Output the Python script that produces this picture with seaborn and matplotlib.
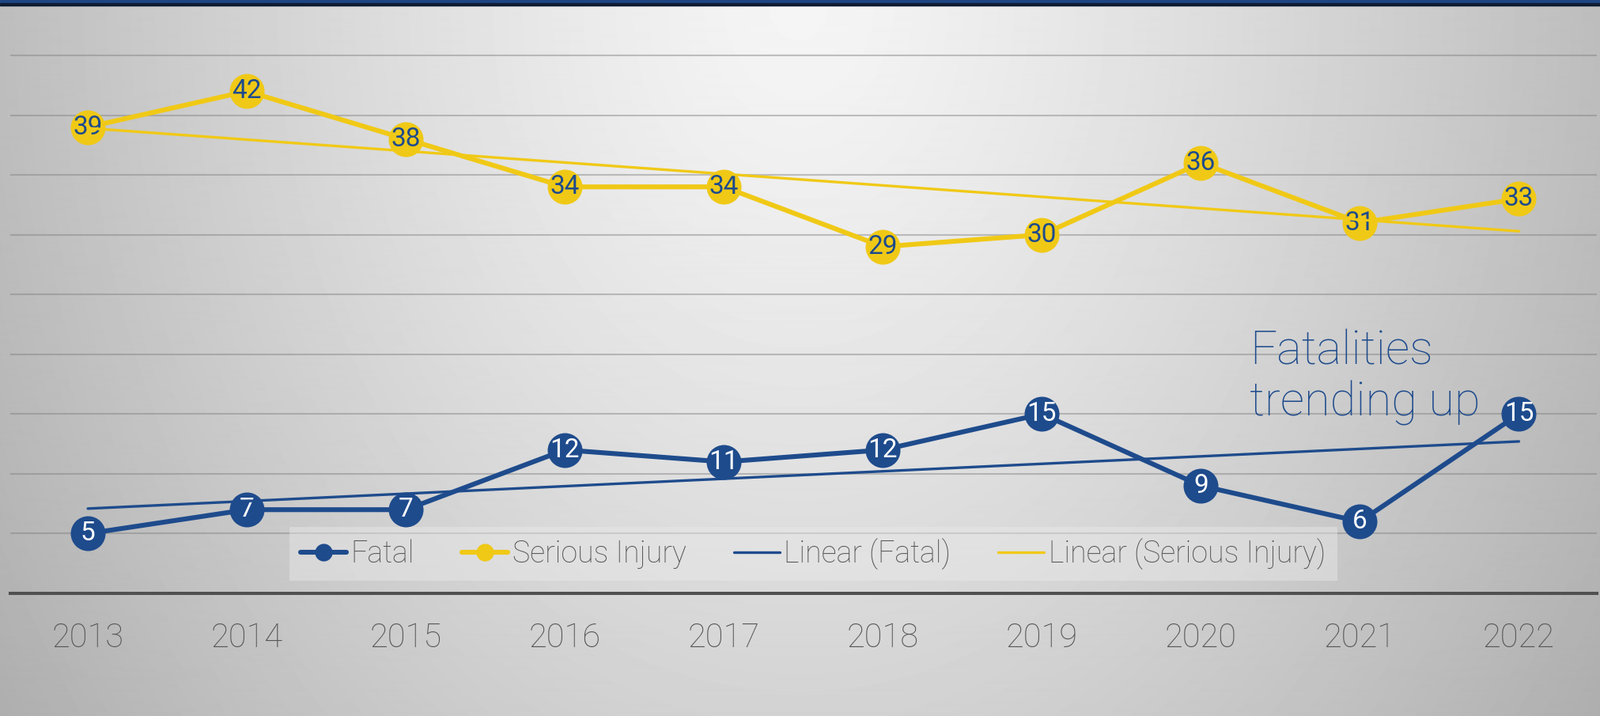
import numpy as np
import matplotlib
matplotlib.use("Agg")
import matplotlib.pyplot as plt
import seaborn as sns
from matplotlib.lines import Line2D
from matplotlib.patches import Rectangle

# ---- data ----
years = [2013, 2014, 2015, 2016, 2017, 2018, 2019, 2020, 2021, 2022]
fatal = [5, 7, 7, 12, 11, 12, 15, 9, 6, 15]
serious = [39, 42, 38, 34, 34, 29, 30, 36, 31, 33]
legend_labels = ["Fatal", "Serious Injury", "Linear (Fatal)", "Linear (Serious Injury)"]
annotation = "Fatalities\ntrending up"

BLUE = "#1E4B8C"
YELLOW = "#F0C916"
GREY_TXT = "#555555"
FONT = ['Roboto', 'DejaVu Sans']

sns.set_style("white")
plt.rcParams['font.family'] = FONT

W, H = 2023, 905
fig = plt.figure(figsize=(W / 100, H / 100), dpi=100)

# background radial gradient
bg = fig.add_axes([0, 0, 1, 1], zorder=0)
yy, xx = np.mgrid[0:H, 0:W]
d = np.sqrt(((xx - 1010) / 1010) ** 2 + ((yy - 0) / 1340) ** 2)
img = np.clip(245 - 56 * d ** 1.25, 0, 255) / 255
bg.imshow(img, cmap='gray', vmin=0, vmax=1, aspect='auto', interpolation='bilinear')
bg.set_axis_off()

ax = fig.add_axes([13 / W, 1 - 750 / H, 2006 / W, 750 / H], zorder=1)
ax.patch.set_alpha(0)

x = np.array(years)
sns.lineplot(x=x, y=fatal, ax=ax, color=BLUE, lw=4.4, marker='o', markersize=31.7,
             markeredgewidth=0, legend=False, zorder=3)
sns.lineplot(x=x, y=serious, ax=ax, color=YELLOW, lw=4.4, marker='o', markersize=31.7,
             markeredgewidth=0, legend=False, zorder=3)

for xi, v in zip(years, fatal):
    ax.text(xi, v, str(v), ha='center', va='center', fontsize=24, color='white', zorder=5)
for xi, v in zip(years, serious):
    ax.text(xi, v, str(v), ha='center', va='center', fontsize=24, color=BLUE, zorder=5)

sns.regplot(x=x, y=np.array(fatal), ax=ax, scatter=False, ci=None, truncate=True,
            line_kws=dict(color=BLUE, lw=2.4, zorder=6))
sns.regplot(x=x, y=np.array(serious), ax=ax, scatter=False, ci=None, truncate=True,
            line_kws=dict(color=YELLOW, lw=2.4, zorder=6))

ax.set_xlim(2012.512, 2022.49)
ax.set_ylim(0, 49.63)
ax.set_xlabel('')
ax.set_ylabel('')
ax.set_yticks(np.arange(5, 50, 5))
ax.yaxis.grid(True, color='#7f7f7f', alpha=0.45, lw=1.5)
ax.xaxis.grid(False)
ax.set_axisbelow(True)
ax.tick_params(axis='y', length=0, labelleft=False)
ax.set_xticks(years)
ax.set_xticklabels([str(y) for y in years], fontsize=30, color=GREY_TXT, fontweight='light')
ax.tick_params(axis='x', length=0, pad=26)
for s in ['left', 'right', 'top']:
    ax.spines[s].set_visible(False)
ax.spines['bottom'].set_color('#505050')
ax.spines['bottom'].set_linewidth(2.9)

handles = [
    Line2D([], [], color=BLUE, lw=4.4, marker='o', ms=16, mew=0, solid_capstyle='round'),
    Line2D([], [], color=YELLOW, lw=4.4, marker='o', ms=16, mew=0, solid_capstyle='round'),
    Line2D([], [], color=BLUE, lw=2.4),
    Line2D([], [], color=YELLOW, lw=2.4),
]
leg = ax.legend(handles, legend_labels, ncol=4, loc='center', bbox_to_anchor=(0.506, 0.0667),
                frameon=True, prop=dict(family=FONT, weight='light', size=27),
                handlelength=1.55, handletextpad=0.15, columnspacing=1.6, borderpad=0.38,
                labelcolor=GREY_TXT, facecolor='#eaeaea', framealpha=0.45, edgecolor='none',
                fancybox=False)
leg.set_zorder(2)

ax.text(0.781, 0.30, annotation, transform=ax.transAxes, fontsize=43, color=BLUE,
        fontweight='light', va='baseline', ha='left', linespacing=1.17, zorder=7)

fig.add_artist(Rectangle((0, 1 - 4 / H), 1, 4 / H, transform=fig.transFigure,
                         color='#1E4582', zorder=10))
fig.add_artist(Rectangle((0, 1 - 7 / H), 1, 3 / H, transform=fig.transFigure,
                         color='#0E1C33', zorder=10))

fig.savefig('out.png', dpi=100)
